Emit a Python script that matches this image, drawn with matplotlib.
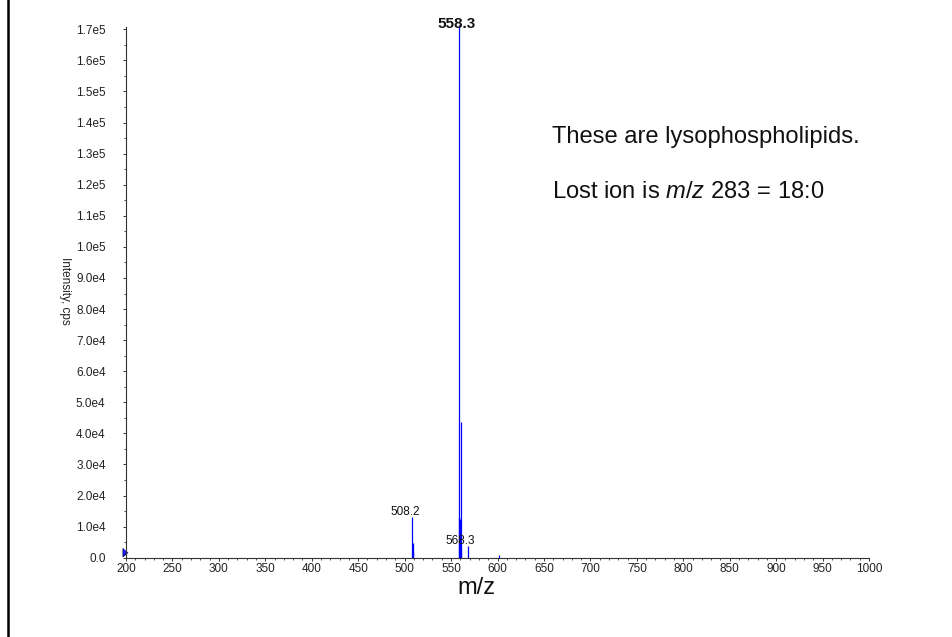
import numpy as np
import matplotlib
matplotlib.use("Agg")
import matplotlib.pyplot as plt
from matplotlib.ticker import MultipleLocator, FuncFormatter
from matplotlib.lines import Line2D

# product ion sticks (m/z, intensity in cps)
peak_mz = [508.2, 508.5, 509.0, 558.3, 558.8, 559.3, 560.0, 560.5, 561.2, 568.3, 602.1]
peak_int = [13200, 4800, 2000, 171400, 13000, 12500, 9000, 43500, 3000, 3900, 1000]

# labelled peaks
label_mz = [508.2, 558.3, 568.3]
label_int = [13200, 171400, 3900]
label_txt = ["508.2", "558.3", "568.3"]
label_bold = [False, True, False]

# precursor marker at the low end of the scan
prec_mz = [198.5]
prec_int = [1800]

note_lines = ["These are lysophospholipids.", "Lost ion is $\\mathit{m/z}$ 283 = 18:0"]

plt.rcParams["font.family"] = ["Liberation Sans", "DejaVu Sans"]
plt.rcParams["mathtext.fontset"] = "custom"
plt.rcParams["mathtext.rm"] = "Liberation Sans"
plt.rcParams["mathtext.it"] = "Liberation Sans:italic"


def ytick_fmt(v, pos):
    v = round(v)
    if v <= 0:
        return "0.0" if v == 0 else ""
    e = int(np.floor(np.log10(v) + 1e-9))
    return "%.1fe%d" % (v / 10 ** e, e)


def main():
    fig = plt.figure(figsize=(9.52, 6.37), dpi=100)
    ax = fig.add_axes([126 / 952, 1 - 557.7 / 637, 743 / 952, (557.7 - 27) / 637])

    ax.vlines(peak_mz, 0, peak_int, colors="#0000ff", linewidth=0.9, clip_on=False)
    ax.plot(prec_mz, prec_int, linestyle="none",
            marker=[(-1, 1.7), (-1, -1.7), (1, 0)], markersize=6.2,
            markerfacecolor="#1a1aff", markeredgecolor="#000060",
            markeredgewidth=0.6, clip_on=False)

    # label offsets in pixels (dx, dy) from the stick top
    offs = [(-7, 5), (-2, 1), (-7.5, 5)]
    for x, y, t, b, o in zip(label_mz, label_int, label_txt, label_bold, offs):
        ax.annotate(t, (x, y), xytext=o, textcoords="offset pixels",
                    ha="center", va="center", annotation_clip=False,
                    fontsize=11 if b else 8.5,
                    fontweight="bold" if b else "normal", color="#111111")

    ax.set_xlim(200, 1000)
    ax.set_ylim(0, 170740)
    ax.xaxis.set_major_locator(MultipleLocator(50))
    ax.xaxis.set_minor_locator(MultipleLocator(10))
    ax.yaxis.set_major_locator(MultipleLocator(10000))
    ax.yaxis.set_minor_locator(MultipleLocator(5000))
    ax.yaxis.set_major_formatter(FuncFormatter(ytick_fmt))

    for s in ["top", "right"]:
        ax.spines[s].set_visible(False)
    for s in ["left", "bottom"]:
        ax.spines[s].set_linewidth(0.8)
        ax.spines[s].set_color("#333333")

    ax.tick_params(axis="x", which="major", direction="out", length=2.4, width=0.7,
                   pad=1.5, labelsize=8.5, colors="#333333", labelcolor="#222222")
    ax.tick_params(axis="x", which="minor", direction="out", length=1.3, width=0.6,
                   colors="#333333")
    ax.tick_params(axis="y", which="major", direction="out", length=2.2, width=0.7,
                   pad=12.5, labelsize=8.5, colors="#333333", labelcolor="#222222")
    ax.tick_params(axis="y", which="minor", direction="out", length=1.2, width=0.6,
                   colors="#333333")

    ax.text(0.471, -0.057, "m/z", transform=ax.transAxes, ha="center", va="center",
            fontsize=17, color="#111111")
    ax.text(-0.082, 0.502, "Intensity, cps", transform=ax.transAxes, ha="center",
            va="center", rotation=270, fontsize=8.5, color="#222222")

    fig.text(552 / 952, 1 - 137 / 637, note_lines[0], ha="left", va="center",
             fontsize=17.1, color="#111111")
    fig.text(552 / 952, 1 - 192 / 637, note_lines[1], ha="left", va="center",
             fontsize=17.1, color="#111111")

    # slide border on the left edge
    fig.add_artist(Line2D([7.8 / 952, 7.8 / 952], [0, 1], color="black", linewidth=1.8))

    fig.savefig("out.png", dpi=100)
    plt.close("all")


if __name__ == '__main__':
    main()
